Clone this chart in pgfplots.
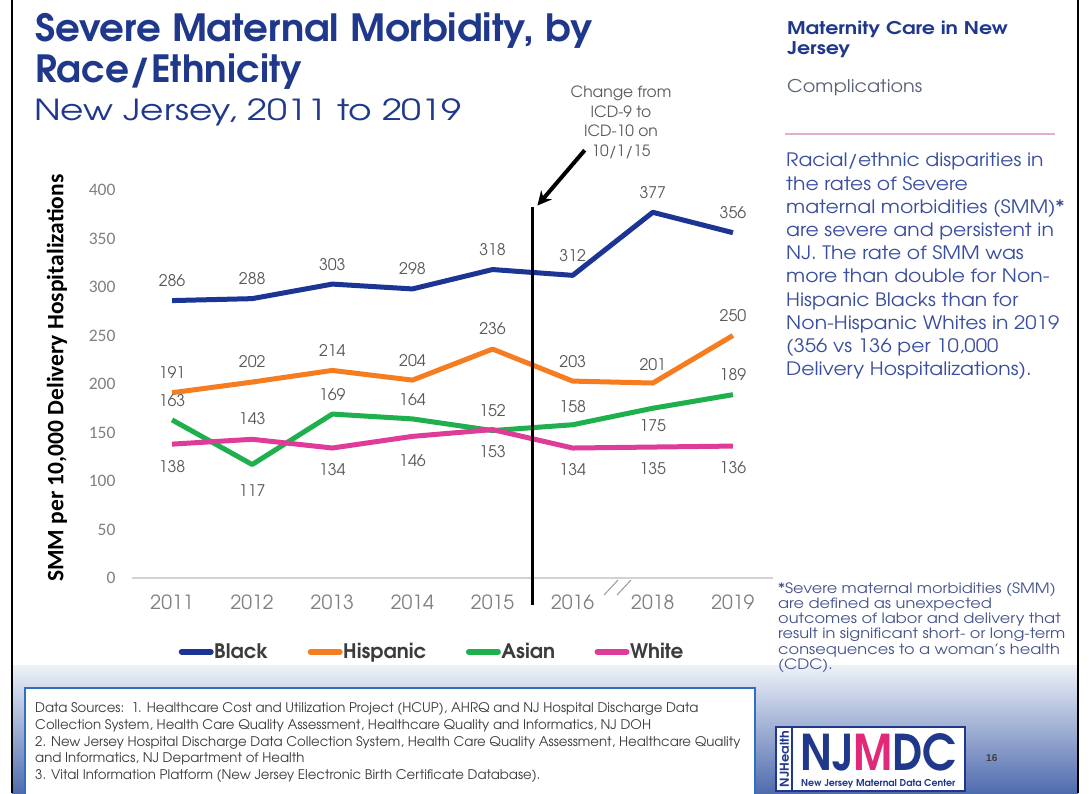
\documentclass[border=0pt]{standalone}
\usepackage{fontspec}
\usepackage{pgfplots}
\pgfplotsset{compat=1.18}
\usepackage{pgfplotstable}
\usetikzlibrary{arrows.meta}
\setmainfont{TeX Gyre Adventor}
\newfontfamily\carlito{Carlito}
\newfontfamily\arial{Liberation Sans}

\definecolor{navy}{RGB}{31,56,140}
\definecolor{paneltxt}{RGB}{58,78,160}
\definecolor{graytxt}{RGB}{90,98,118}
\definecolor{foot}{RGB}{70,84,140}
\definecolor{cBlack}{RGB}{28,52,148}
\definecolor{cHisp}{RGB}{245,125,32}
\definecolor{cAsian}{RGB}{30,176,76}
\definecolor{cWhite}{RGB}{222,60,152}
\definecolor{labgray}{RGB}{89,89,89}
\definecolor{tickgray}{RGB}{128,128,128}
\definecolor{pinkline}{RGB}{226,176,204}
\definecolor{boxblue}{RGB}{50,110,190}
\definecolor{bandtop}{RGB}{238,242,248}
\definecolor{bandmid}{RGB}{200,212,232}
\definecolor{bandbot}{RGB}{80,108,175}
\definecolor{magM}{RGB}{226,40,120}
\definecolor{srcgray}{RGB}{60,60,60}

\pgfplotstableread{
x y off
0 286 20
1 288 20
2 303 20
3 298 20
4 318 20
5 312 20
6 377 20
7 356 20
}\tblack
\pgfplotstableread{
x y off
0 191 20
1 202 20
2 214 20
3 204 20
4 236 20
5 203 20
6 201 18
7 250 20
}\thisp
\pgfplotstableread{
x y off
0 163 19
1 117 -26
2 169 19
3 164 19
4 152 20
5 158 18
6 175 -17
7 189 20
}\tasian
\pgfplotstableread{
x y off
0 138 -22
1 143 21
2 134 -22
3 146 -24
4 153 -22
5 134 -22
6 135 -22
7 136 -22
}\twhite

\begin{document}
\begin{tikzpicture}
\begin{scope}[x=1pt,y=1pt]
\useasboundingbox (0,0) rectangle (1089,793);
\fill[white] (0,0) rectangle (1089,793);
% bottom band
\shade[top color=bandtop, middle color=bandmid, bottom color=bandbot] (12,0) rectangle (1078,128);
% borders
\draw[line width=2pt] (12,0) -- (12,793);
\draw[line width=2.5pt] (1078,0) -- (1078,793);
% titles
\node[anchor=base west, inner sep=0, text=navy, font=\bfseries\fontsize{37.5}{37.5}\selectfont] at (35,751) {\scalebox{1.035}[1]{Severe Maternal Morbidity, by}};
\node[anchor=base west, inner sep=0, text=navy, font=\bfseries\fontsize{37.5}{37.5}\selectfont] at (35,710) {Race/Ethnicity};
\node[anchor=base west, inner sep=0, text=navy, font=\fontsize{29}{29}\selectfont] at (34,672) {\scalebox{1.24}[1]{New Jersey, 2011 to 2019}};
% right panel
\node[anchor=base west, inner sep=0, text=navy, font=\bfseries\fontsize{17.5}{17.5}\selectfont] at (787,758) {\scalebox{1.175}[1]{Maternity Care in New}};
\node[anchor=base west, inner sep=0, text=navy, font=\bfseries\fontsize{17.5}{17.5}\selectfont] at (787,738) {\scalebox{1.175}[1]{Jersey}};
\node[anchor=base west, inner sep=0, text=graytxt, font=\fontsize{17.5}{17.5}\selectfont] at (787,700) {\scalebox{1.1}[1]{Complications}};
\draw[pinkline, line width=2pt] (785,659) -- (1055,659);
\foreach \t [count=\i] in {Racial/ethnic disparities in, the rates of Severe, maternal morbidities (SMM)*, are severe and persistent in, NJ. The rate of SMM was, more than double for Non-, Hispanic Blacks than for, Non-Hispanic Whites in 2019, {(356 vs 136 per 10,000}, Delivery Hospitalizations).}
  \node[anchor=base west, inner sep=0, text=paneltxt, font=\fontsize{18.5}{18.5}\selectfont] at (786,{626-(\i-1)*23.2}) {\scalebox{1.1}[1]{\t}};
\foreach \t [count=\i] in {*Severe maternal morbidities (SMM), are defined as unexpected, outcomes of labor and delivery that, result in significant short- or long-term, consequences to a woman’s health, (CDC).}
  \node[anchor=base west, inner sep=0, text=foot, font=\fontsize{14.3}{14.3}\selectfont] at (778,{200-(\i-1)*15.3}) {\scalebox{1.13}[1]{\t}};
% data sources box
\draw[boxblue, line width=2pt, fill=white] (25,-5) rectangle (755,105);
\foreach \t/\yy in {{Data Sources:\ \ 1. Healthcare Cost and Utilization Project (HCUP), AHRQ and NJ Hospital Discharge Data}/81, {Collection System, Health Care Quality Assessment, Healthcare Quality and Informatics, NJ DOH}/64, {2. New Jersey Hospital Discharge Data Collection System, Health Care Quality Assessment, Healthcare Quality}/47, {and Informatics, NJ Department of Health}/31, {3. Vital Information Platform (New Jersey Electronic Birth Certificate Database).}/14}
  \node[anchor=base west, inner sep=0, text=srcgray, font=\fontsize{13.3}{13.3}\selectfont] at (35,\yy) {\t};
% logo
\draw[navy, line width=2pt, fill=white] (776,2) rectangle (965,66);
\draw[navy, line width=1.2pt] (776,2) rectangle (792,66);
\node[rotate=90, inner sep=0, text=navy] at (784.5,34) {\resizebox{56pt}{9pt}{\bfseries NJHealth}};
\node[anchor=base west, inner sep=0, text=navy] at (800,23) {\resizebox{156pt}{37pt}{\bfseries NJ\textcolor{magM}{M}DC}};
\node[anchor=base west, inner sep=0, text=navy] at (801,7) {\resizebox{154pt}{!}{\bfseries New Jersey Maternal Data Center}};
\node[anchor=base west, inner sep=0, text=srcgray, font=\arial\bfseries\fontsize{10}{10}\selectfont] at (986,32) {16};
% ICD annotation text
\node[anchor=north, align=center, inner sep=0, text=labgray, font=\fontsize{15.5}{19.5}\selectfont] at (621,707) {Change from\\ICD-9 to\\ICD-10 on\\10/1/15};
% axis break marks
\draw[tickgray!80, line width=1pt] (604,198) -- (618,213);
\draw[tickgray!80, line width=1pt] (617,198) -- (631,213);
\end{scope}

\begin{axis}[
  at={(132pt,215pt)}, anchor=south west, scale only axis,
  width=641pt, height=388pt,
  xmin=-0.5, xmax=7.5, ymin=0, ymax=400,
  xtick={0,...,7}, xticklabels={2011,2012,2013,2014,2015,2016,2018,2019},
  ytick={0,50,...,400},
  /pgf/number format/assume math mode=true,
  axis line style={draw=none},
  major tick length=0pt,
  extra y ticks={0}, extra y tick labels={},
  extra y tick style={grid=major, major grid style={draw=gray!35, line width=1.2pt}},
  clip=false,
  xticklabel style={font=\fontsize{19.5}{19.5}\selectfont, text=tickgray, yshift=-13pt},
  yticklabel style={font=\carlito\fontsize{17.5}{17.5}\selectfont, text=tickgray, xshift=-13pt},
  ylabel={SMM per 10,000 Delivery Hospitalizations},
  every axis y label/.style={at={(axis description cs:-0.117,0.515)}, rotate=90, anchor=center,
    font=\carlito\bfseries\fontsize{23.5}{23.5}\selectfont, text=black},
  legend style={at={(axis description cs:0.467,-0.19)}, anchor=center, draw=none, fill=none,
    font=\bfseries\fontsize{20}{20}\selectfont, text=srcgray, legend columns=4,
    nodes={inner sep=0.5pt},
    /tikz/every even column/.append style={column sep=39pt}},
  legend image code/.code={\draw[line width=6pt, line cap=round, #1] (0pt,0pt) -- (29pt,0pt);},
  nodes near coords,
  point meta=explicit symbolic,
  visualization depends on={\thisrow{off} \as \myoff},
  every node near coord/.append style={anchor=center, yshift=\myoff, font=\fontsize{16}{16}\selectfont, text=labgray, inner sep=0pt},
]
\addplot[cBlack, line width=5pt, line join=round] table[x=x, y=y, meta=y] {\tblack};
\addlegendentry{Black}
\addplot[cHisp, line width=5pt, line join=round] table[x=x, y=y, meta=y] {\thisp};
\addlegendentry{Hispanic}
\addplot[cAsian, line width=5pt, line join=round] table[x=x, y=y, meta=y] {\tasian};
\addlegendentry{Asian}
\addplot[cWhite, line width=5pt, line join=round] table[x=x, y=y, meta=y] {\twhite};
\addlegendentry{White}
\draw[black, line width=3pt] (axis cs:4.5,382) -- (axis cs:4.5,-28);
\draw[black, line width=4pt, -{Stealth[length=14pt, width=14pt]}] (axis cs:5.15,441) -- (axis cs:4.56,384);
\end{axis}
\end{tikzpicture}
\end{document}
